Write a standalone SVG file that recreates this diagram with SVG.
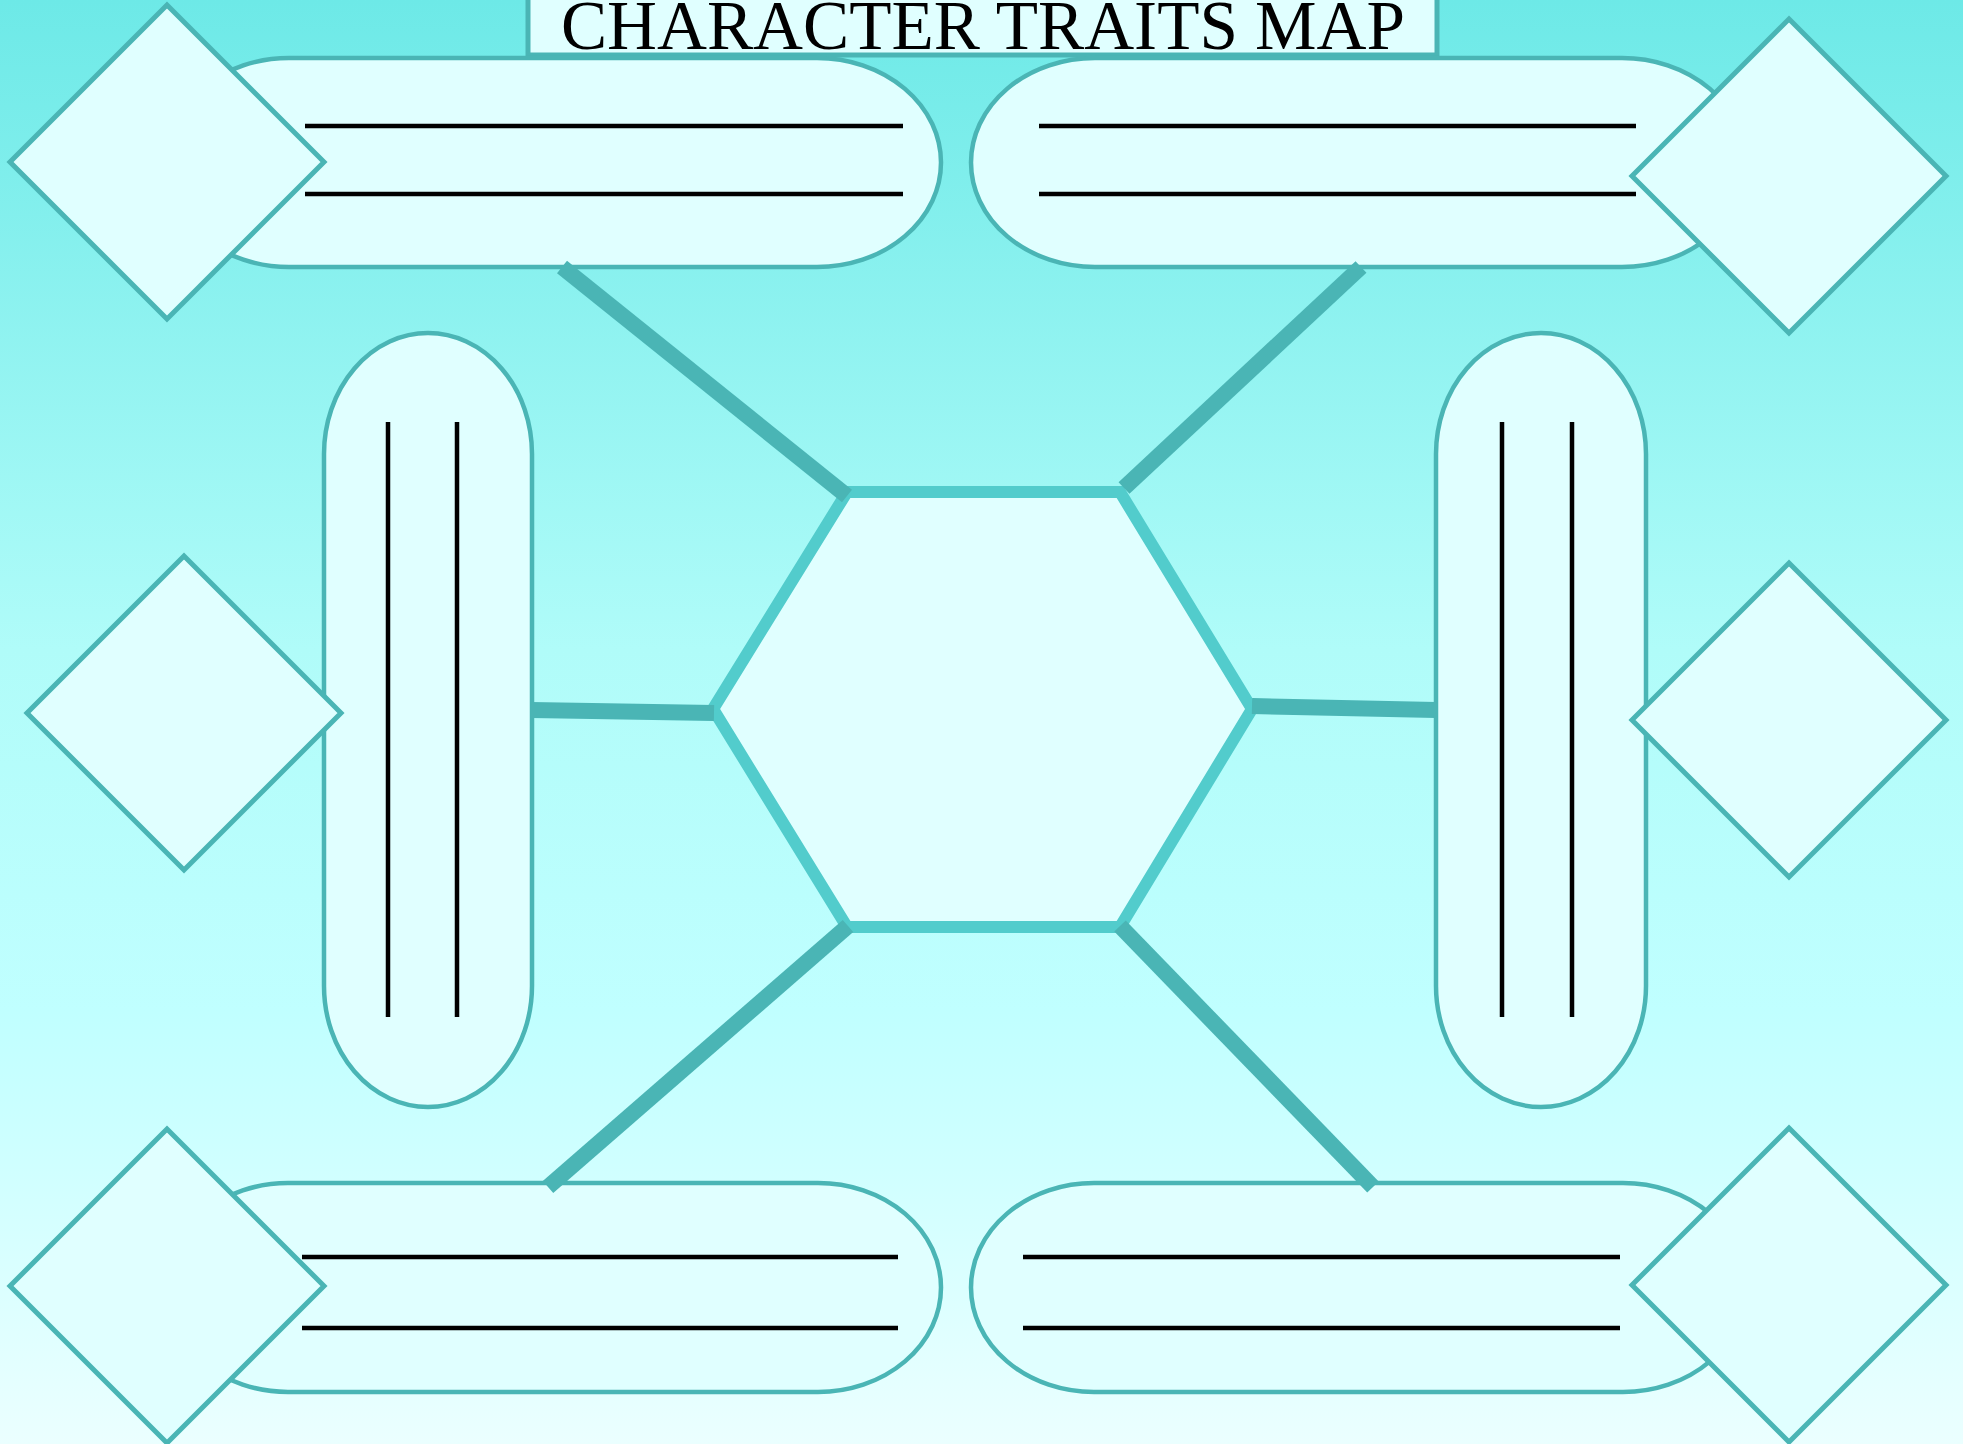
<svg xmlns="http://www.w3.org/2000/svg" width="1963" height="1444" viewBox="0 0 1963 1444">
  <defs>
    <linearGradient id="bg" x1="0" y1="0" x2="0" y2="1">
      <stop offset="0" stop-color="#6DE9E7"/>
      <stop offset="0.45" stop-color="#B0FCF9"/>
      <stop offset="0.7" stop-color="#C0FFFF"/>
      <stop offset="1" stop-color="#EBFFFF"/>
    </linearGradient>
    <style>
      .pill { fill: #E0FFFF; stroke: #4AB5B5; stroke-width: 4.5; }
      .dia { fill: #E0FFFF; stroke: #4AB5B5; stroke-width: 5; stroke-linejoin: miter; }
      .wl { stroke: #000000; stroke-width: 4.5; }
      .hex { fill: #E0FFFF; stroke: #52CCCC; stroke-width: 12; stroke-linejoin: miter; }
      .conn { stroke: #4AB5B5; stroke-width: 16; stroke-linecap: butt; fill: none; }
      .title { font-family: "Liberation Serif", "DejaVu Serif", serif; font-size: 70px; fill: #000000; }
    </style>
  </defs>

  <rect x="0" y="0" width="1963" height="1444" fill="url(#bg)"/>

  <g id="title">
    <rect x="528" y="-10" width="909" height="65" fill="#E0FFFF" stroke="#4AB5B5" stroke-width="5"/>
    <text class="title" x="561" y="49" textLength="844" lengthAdjust="spacingAndGlyphs">CHARACTER TRAITS MAP</text>
  </g>

  <g id="pill-top-left">
    <rect class="pill" x="165" y="58" width="776" height="209" rx="124" ry="104.5"/>
    <line class="wl" x1="305" y1="126" x2="903" y2="126"/>
    <line class="wl" x1="305" y1="194" x2="903" y2="194"/>
  </g>
  <g id="pill-top-right">
    <rect class="pill" x="971" y="58" width="775" height="209" rx="124" ry="104.5"/>
    <line class="wl" x1="1039" y1="126" x2="1636" y2="126"/>
    <line class="wl" x1="1039" y1="194" x2="1636" y2="194"/>
  </g>
  <g id="pill-left">
    <rect class="pill" x="324" y="333" width="208" height="774" rx="104" ry="121"/>
    <line class="wl" x1="388" y1="422" x2="388" y2="1017"/>
    <line class="wl" x1="457" y1="422" x2="457" y2="1017"/>
  </g>
  <g id="pill-right">
    <rect class="pill" x="1436" y="333" width="210" height="774" rx="105" ry="121"/>
    <line class="wl" x1="1502" y1="422" x2="1502" y2="1017"/>
    <line class="wl" x1="1572" y1="422" x2="1572" y2="1017"/>
  </g>
  <g id="pill-bottom-left">
    <rect class="pill" x="165" y="1183" width="776" height="209" rx="123" ry="104.5"/>
    <line class="wl" x1="302" y1="1257" x2="898" y2="1257"/>
    <line class="wl" x1="302" y1="1328" x2="898" y2="1328"/>
  </g>
  <g id="pill-bottom-right">
    <rect class="pill" x="971" y="1183" width="775" height="209" rx="123" ry="104.5"/>
    <line class="wl" x1="1023" y1="1257" x2="1620" y2="1257"/>
    <line class="wl" x1="1023" y1="1328" x2="1620" y2="1328"/>
  </g>

  <g id="diamond-top-left"><polygon class="dia" points="167,5 324,162 167,319 10,162"/></g>
  <g id="diamond-mid-left"><polygon class="dia" points="184,556 341,713 184,870 27,713"/></g>
  <g id="diamond-bottom-left"><polygon class="dia" points="167,1129 324,1286 167,1443 10,1286"/></g>
  <g id="diamond-top-right"><polygon class="dia" points="1789,19 1946,176 1789,333 1632,176"/></g>
  <g id="diamond-mid-right"><polygon class="dia" points="1789,563 1946,720 1789,877 1632,720"/></g>
  <g id="diamond-bottom-right"><polygon class="dia" points="1789,1128 1946,1285 1789,1442 1632,1285"/></g>

  <g id="hexagon">
    <polygon class="hex" points="847,492 1120,492 1252,709 1120,927 847,927 713,709"/>
  </g>

  <g id="connectors">
    <line class="conn" x1="562" y1="267" x2="847" y2="496"/>
    <line class="conn" x1="1361" y1="267" x2="1124" y2="488"/>
    <line class="conn" x1="531" y1="710" x2="714" y2="713"/>
    <line class="conn" x1="1252" y1="706" x2="1436" y2="710"/>
    <line class="conn" x1="848" y1="926" x2="548" y2="1187"/>
    <line class="conn" x1="1120" y1="926" x2="1373" y2="1187"/>
  </g>
</svg>
